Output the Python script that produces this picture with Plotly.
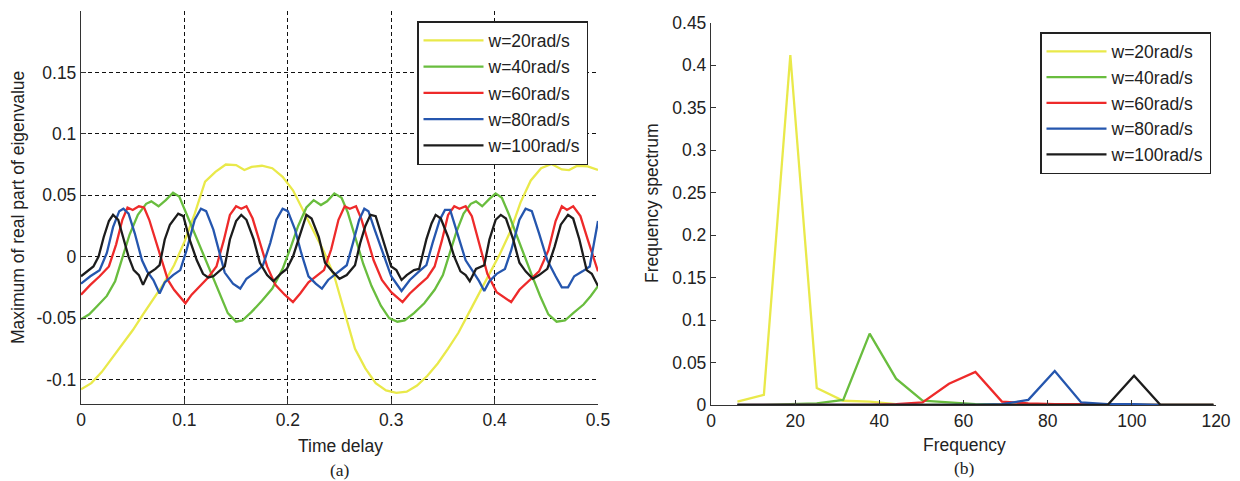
import plotly.graph_objects as go

# ---------------- (a) time-delay curves ----------------
t_w20 = [0, 0.01, 0.02, 0.03, 0.04, 0.05, 0.06, 0.07, 0.08, 0.09, 0.10, 0.11, 0.12, 0.13, 0.14, 0.15,
         0.158, 0.165, 0.175, 0.185, 0.195, 0.205, 0.215, 0.225, 0.235, 0.245, 0.255, 0.265, 0.275,
         0.285, 0.295, 0.305, 0.315, 0.325, 0.335, 0.345, 0.355, 0.365, 0.375, 0.385, 0.395, 0.405,
         0.415, 0.425, 0.435, 0.445, 0.455, 0.465, 0.472, 0.48, 0.49, 0.5]
v_w20 = [-0.108, -0.103, -0.094, -0.083, -0.072, -0.060, -0.047, -0.035, -0.022, -0.007, 0.012, 0.035,
         0.061, 0.069, 0.075, 0.0745, 0.0705, 0.073, 0.074, 0.072, 0.065, 0.054, 0.037, 0.021, 0.004,
         -0.016, -0.045, -0.075, -0.091, -0.103, -0.109, -0.111, -0.110, -0.105, -0.097, -0.087, -0.075,
         -0.062, -0.046, -0.030, -0.015, 0.002, 0.020, 0.044, 0.062, 0.072, 0.0755, 0.071, 0.0705, 0.074,
         0.0735, 0.0705]

t_w40 = [0, 0.008, 0.016, 0.025, 0.033, 0.040, 0.047, 0.055, 0.063, 0.068, 0.075, 0.082, 0.089, 0.095,
         0.102, 0.110, 0.118, 0.126, 0.134, 0.142, 0.150, 0.156, 0.165, 0.175, 0.185, 0.195, 0.203, 0.210,
         0.218, 0.225, 0.232, 0.238, 0.245, 0.252, 0.258, 0.265, 0.273, 0.281, 0.290, 0.298, 0.306, 0.313,
         0.322, 0.332, 0.342, 0.350, 0.356, 0.363, 0.370, 0.377, 0.382, 0.388, 0.395, 0.401, 0.407, 0.414,
         0.421, 0.428, 0.436, 0.444, 0.452, 0.460, 0.468, 0.476, 0.486, 0.493, 0.5]
v_w40 = [-0.051, -0.047, -0.040, -0.032, -0.020, 0.000, 0.018, 0.034, 0.043, 0.045, 0.041, 0.046, 0.052,
         0.049, 0.035, 0.018, 0.003, -0.013, -0.029, -0.046, -0.053, -0.052, -0.045, -0.036, -0.026, -0.010,
         0.008, 0.025, 0.040, 0.046, 0.042, 0.045, 0.0515, 0.048, 0.036, 0.016, -0.006, -0.024, -0.040,
         -0.050, -0.053, -0.052, -0.046, -0.038, -0.027, -0.015, 0.002, 0.020, 0.035, 0.043, 0.045, 0.041,
         0.047, 0.0515, 0.048, 0.034, 0.018, 0.002, -0.015, -0.032, -0.047, -0.053, -0.052, -0.046, -0.039,
         -0.032, -0.024]

t_w60 = [0, 0.009, 0.018, 0.027, 0.034, 0.040, 0.045, 0.050, 0.056, 0.061, 0.066, 0.072, 0.078, 0.084,
         0.090, 0.096, 0.101, 0.107, 0.115, 0.123, 0.131, 0.138, 0.144, 0.150, 0.155, 0.160, 0.166, 0.173,
         0.180, 0.188, 0.197, 0.205, 0.212, 0.220, 0.228, 0.235, 0.242, 0.249, 0.255, 0.260, 0.266, 0.271,
         0.277, 0.283, 0.291, 0.300, 0.311, 0.318, 0.327, 0.335, 0.342, 0.349, 0.355, 0.361, 0.366, 0.372,
         0.378, 0.385, 0.393, 0.402, 0.409, 0.416, 0.424, 0.434, 0.443, 0.452, 0.459, 0.465, 0.470, 0.476,
         0.483, 0.490, 0.5]
v_w60 = [-0.031, -0.023, -0.016, -0.008, 0.010, 0.030, 0.040, 0.038, 0.041, 0.040, 0.030, 0.013, -0.002,
         -0.019, -0.027, -0.033, -0.038, -0.031, -0.024, -0.017, -0.008, 0.013, 0.034, 0.041, 0.039, 0.041,
         0.031, 0.011, -0.008, -0.023, -0.031, -0.037, -0.030, -0.021, -0.016, -0.011, 0.006, 0.030, 0.041,
         0.039, 0.041, 0.031, 0.014, -0.003, -0.019, -0.029, -0.037, -0.030, -0.023, -0.017, -0.008, 0.013,
         0.034, 0.041, 0.039, 0.041, 0.033, 0.010, -0.014, -0.029, -0.033, -0.037, -0.027, -0.019, -0.012,
         0.005, 0.029, 0.041, 0.038, 0.041, 0.033, 0.014, -0.012]

t_w80 = [0, 0.009, 0.018, 0.025, 0.031, 0.037, 0.041, 0.046, 0.052, 0.059, 0.064, 0.070, 0.076, 0.081,
         0.089, 0.096, 0.102, 0.110, 0.116, 0.121, 0.128, 0.134, 0.139, 0.147, 0.154, 0.160, 0.170, 0.176,
         0.183, 0.189, 0.195, 0.200, 0.207, 0.213, 0.220, 0.227, 0.233, 0.239, 0.249, 0.257, 0.263, 0.269,
         0.274, 0.278, 0.284, 0.292, 0.300, 0.310, 0.318, 0.327, 0.334, 0.340, 0.347, 0.352, 0.357, 0.364,
         0.372, 0.379, 0.385, 0.390, 0.395, 0.402, 0.410, 0.416, 0.424, 0.430, 0.436, 0.443, 0.451, 0.459,
         0.465, 0.471, 0.477, 0.485, 0.492, 0.5]
v_w80 = [-0.022, -0.016, -0.011, 0.003, 0.024, 0.037, 0.039, 0.035, 0.019, -0.003, -0.012, -0.019, -0.030,
         -0.021, -0.015, -0.011, 0.005, 0.030, 0.039, 0.037, 0.022, 0.003, -0.013, -0.022, -0.026, -0.018,
         -0.012, -0.007, 0.011, 0.030, 0.039, 0.037, 0.022, 0.003, -0.016, -0.022, -0.026, -0.019, -0.012,
         -0.007, 0.011, 0.030, 0.039, 0.037, 0.022, 0.003, -0.016, -0.028, -0.019, -0.012, -0.007, 0.011,
         0.030, 0.038, 0.038, 0.019, -0.003, -0.012, -0.020, -0.028, -0.020, -0.014, -0.010, 0.005, 0.030,
         0.039, 0.037, 0.019, -0.003, -0.016, -0.025, -0.025, -0.016, -0.012, -0.008, 0.029]

t_w100 = [0, 0.006, 0.012, 0.017, 0.022, 0.027, 0.031, 0.036, 0.041, 0.046, 0.051, 0.056, 0.060, 0.065,
          0.072, 0.076, 0.081, 0.086, 0.094, 0.099, 0.105, 0.112, 0.118, 0.123, 0.128, 0.134, 0.139, 0.144,
          0.150, 0.155, 0.160, 0.167, 0.173, 0.180, 0.186, 0.193, 0.199, 0.205, 0.212, 0.218, 0.223, 0.230,
          0.236, 0.243, 0.250, 0.257, 0.265, 0.270, 0.275, 0.280, 0.285, 0.293, 0.300, 0.305, 0.310, 0.315,
          0.322, 0.327, 0.334, 0.339, 0.343, 0.348, 0.355, 0.361, 0.367, 0.372, 0.376, 0.382, 0.390, 0.395,
          0.401, 0.406, 0.411, 0.418, 0.424, 0.430, 0.437, 0.443, 0.451, 0.458, 0.464, 0.471, 0.476, 0.482,
          0.489, 0.494, 0.5]
v_w100 = [-0.016, -0.012, -0.008, 0.000, 0.016, 0.029, 0.034, 0.030, 0.016, 0.000, -0.011, -0.015, -0.023,
          -0.014, -0.010, -0.007, 0.014, 0.026, 0.035, 0.033, 0.014, -0.003, -0.014, -0.017, -0.016, -0.012,
          -0.008, 0.014, 0.029, 0.034, 0.030, 0.014, -0.005, -0.015, -0.020, -0.014, -0.010, 0.000, 0.019,
          0.034, 0.031, 0.016, -0.005, -0.012, -0.018, -0.015, -0.007, 0.011, 0.025, 0.034, 0.033, 0.011,
          -0.008, -0.011, -0.019, -0.015, -0.011, -0.010, 0.014, 0.027, 0.034, 0.031, 0.016, 0.000, -0.012,
          -0.015, -0.020, -0.010, -0.007, 0.014, 0.030, 0.034, 0.031, 0.014, -0.005, -0.012, -0.018, -0.015,
          -0.010, 0.008, 0.026, 0.034, 0.031, 0.014, -0.011, -0.014, -0.024]

# ---------------- (b) frequency spectrum ----------------
spec_freq = [6.28, 12.57, 18.85, 25.13, 31.42, 37.70, 43.98, 50.27, 56.55, 62.83, 69.12, 75.40, 81.68,
             87.96, 94.25, 100.53, 106.81, 113.10, 119.38]
spec_w20 = [0.004, 0.012, 0.412, 0.020, 0.005, 0.004, 0.001, 0, 0, 0, 0, 0, 0, 0, 0, 0, 0, 0, 0]
spec_w40 = [0, 0, 0.001, 0.002, 0.006, 0.084, 0.031, 0.005, 0.003, 0.001, 0, 0, 0, 0, 0, 0, 0, 0, 0]
spec_w60 = [0, 0, 0, 0, 0, 0, 0.001, 0.003, 0.025, 0.039, 0.004, 0.002, 0.001, 0.001, 0, 0, 0, 0, 0]
spec_w80 = [0, 0, 0, 0, 0, 0, 0, 0, 0, 0, 0.001, 0.006, 0.040, 0.003, 0.001, 0.001, 0, 0, 0]
spec_w100 = [0, 0, 0, 0, 0, 0, 0, 0, 0, 0, 0, 0, 0, 0, 0, 0.0345, 0, 0, 0]

names = ["w=20rad/s", "w=40rad/s", "w=60rad/s", "w=80rad/s", "w=100rad/s"]
colors = ["#E9E94A", "#69BD3E", "#EE2A2A", "#2556AE", "#1C1C1C"]

FONT = "Liberation Sans, Arial, Helvetica, sans-serif"
TXT = "#222222"
FS = 17.5

fig = go.Figure()

left_t = [t_w20, t_w40, t_w60, t_w80, t_w100]
left_v = [v_w20, v_w40, v_w60, v_w80, v_w100]
for i in range(5):
    fig.add_trace(go.Scatter(x=left_t[i], y=left_v[i], mode="lines", name=names[i],
                             line=dict(color=colors[i], width=2.3),
                             xaxis="x", yaxis="y", legend="legend",
                             legendgroup="a%d" % i))

right_v = [spec_w20, spec_w40, spec_w60, spec_w80, spec_w100]
for i in range(5):
    fig.add_trace(go.Scatter(x=spec_freq, y=right_v[i], mode="lines", name=names[i],
                             line=dict(color=colors[i], width=2.3),
                             xaxis="x2", yaxis="y2", legend="legend2",
                             legendgroup="b%d" % i))

W, H = 1240, 481
def px(x):
    return x / W
def py(y):
    return 1 - y / H

axis_common = dict(showline=True, linecolor="#333333", linewidth=1.3, ticks="inside",
                   ticklen=5, tickcolor="#333333", tickwidth=1, zeroline=False,
                   automargin=False,
                   tickfont=dict(family=FONT, size=FS, color=TXT), mirror=False)

fig.update_layout(
    template="none",
    width=W, height=H,
    margin=dict(l=0, r=0, t=0, b=0, pad=0),
    paper_bgcolor="white", plot_bgcolor="white",
    font=dict(family=FONT, size=FS, color=TXT),
    xaxis=dict(domain=[px(81), px(598)], range=[0, 0.5],
               tickvals=[0, 0.1, 0.2, 0.3, 0.4, 0.5],
               ticktext=["0", "0.1", "0.2", "0.3", "0.4", "0.5"],
               showgrid=True, gridcolor="#111111", gridwidth=1, griddash="4px,3px",
               anchor="y", **axis_common),
    yaxis=dict(domain=[py(404), py(11)], range=[-0.12, 0.2],
               tickvals=[-0.1, -0.05, 0, 0.05, 0.1, 0.15],
               ticktext=["-0.1", "-0.05", "0", "0.05", "0.1", "0.15"],
               showgrid=True, gridcolor="#111111", gridwidth=1, griddash="4px,3px",
               anchor="x", **axis_common),
    xaxis2=dict(domain=[px(711), px(1216)], range=[0, 120],
                tickvals=[0, 20, 40, 60, 80, 100, 120],
                ticktext=["0", "20", "40", "60", "80", "100", "120"],
                showgrid=False, anchor="y2", **axis_common),
    yaxis2=dict(domain=[py(405), py(22.7)], range=[0, 0.45],
                tickvals=[0, 0.05, 0.1, 0.15, 0.2, 0.25, 0.3, 0.35, 0.4, 0.45],
                ticktext=["0", "0.05", "0.1", "0.15", "0.2", "0.25", "0.3", "0.35", "0.4", "0.45"],
                showgrid=False, anchor="x2", **axis_common),
    legend=dict(x=px(417), y=py(21), xanchor="left", yanchor="top",
                bordercolor="#222222", borderwidth=1.5, bgcolor="white",
                font=dict(family=FONT, size=FS, color=TXT), tracegroupgap=0.5,
                itemwidth=60),
    legend2=dict(x=px(1040), y=py(32), xanchor="left", yanchor="top",
                 bordercolor="#222222", borderwidth=1.5, bgcolor="white",
                 font=dict(family=FONT, size=FS, color=TXT), tracegroupgap=0,
                 itemwidth=60),
    showlegend=True,
)

ann = [
    dict(text="Maximum of real part of eigenvalue", x=px(18), y=py(208), textangle=-90),
    dict(text="Frequency spectrum", x=px(652), y=py(203), textangle=-90),
    dict(text="Time delay", x=px(340), y=py(446)),
    dict(text="Frequency", x=px(964), y=py(445)),
]
for a in ann:
    fig.add_annotation(xref="paper", yref="paper", showarrow=False, xanchor="center",
                       yanchor="middle", font=dict(family=FONT, size=FS, color=TXT), **a)
for txt, xx, yy in [("(a)", 340, 470), ("(b)", 964, 468)]:
    fig.add_annotation(text=txt, xref="paper", yref="paper", x=px(xx), y=py(yy), showarrow=False,
                       xanchor="center", yanchor="middle",
                       font=dict(family="Liberation Serif, Times New Roman, serif", size=FS, color=TXT))

fig.write_html("out.html", config={"displayModeBar": False},
               post_script="document.body.style.margin='0px';document.body.style.overflow='hidden';")
